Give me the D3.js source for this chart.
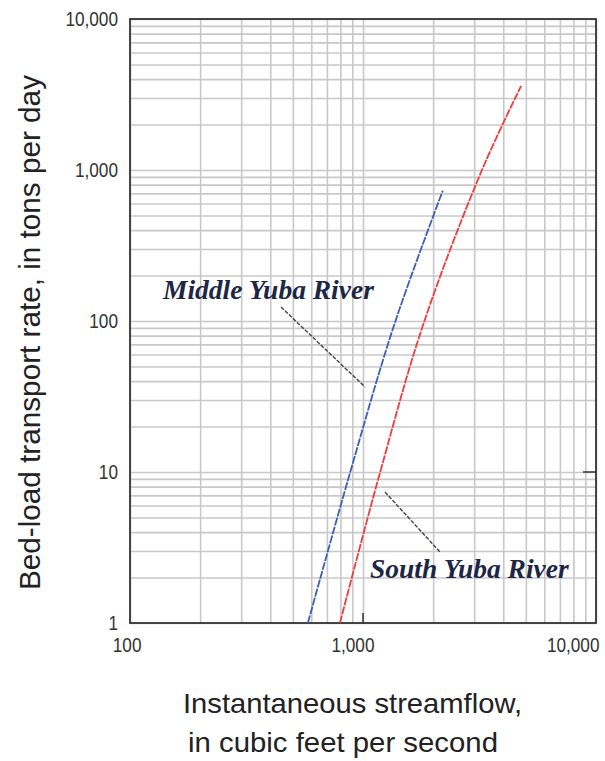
<!DOCTYPE html>
<html lang="en">
<head>
  <meta charset="UTF-8">
  <title>Bed-load transport rate vs streamflow</title>
  <script src="https://d3js.org/d3.v7.min.js"></script>
  <style>
    body { margin: 0; background: #fff; }
    .grid line { stroke: #c8c8c8; stroke-width: 1.6; }
    .grid path { display: none; }
    .lbl text { font-family: "Liberation Sans", Arial, sans-serif; font-size: 21px; fill: #333; }
    .lbl path, .lbl line { display: none; }
  </style>
</head>
<body>
  <script>
    // Values
    const xTickValues = [100, 1000, 10000];
    const yTickValues = [1, 10, 100, 1000, 10000];

    const middleFlow = [580, 870, 1360, 2200];
    const middleLoad = [1, 9.3, 94, 730];

    const southFlow = [796, 1170, 1810, 3240, 4770];
    const southLoad = [1, 9.3, 94, 1000, 3600];

    const width = 605, height = 761;
    const plotL = 130, plotR = 596, plotT = 19, plotB = 623;
    const squeeze = 0.82; // the original uses a condensed face

    const svg = d3.select("body").append("svg")
      .attr("width", width)
      .attr("height", height);

    const x = d3.scaleLog().domain([100, 10000]).range([plotL, plotR]);
    const y = d3.scaleLog().domain([1, 10000]).range([plotB, plotT]);

    // grid lines (every 1..9 of each decade)
    svg.append("g")
      .attr("class", "grid")
      .attr("transform", `translate(0,${plotB})`)
      .call(d3.axisBottom(x).ticks(20).tickSize(-(plotB - plotT)).tickFormat(""));

    svg.append("g")
      .attr("class", "grid")
      .attr("transform", `translate(${plotL},0)`)
      .call(d3.axisLeft(y).ticks(40).tickSize(-(plotR - plotL)).tickFormat(""));

    // frame
    svg.append("rect")
      .attr("x", plotL).attr("y", plotT)
      .attr("width", plotR - plotL).attr("height", plotB - plotT)
      .attr("fill", "none")
      .attr("stroke", "#333")
      .attr("stroke-width", 1.8);

    // small inward ticks
    svg.append("line")
      .attr("x1", x(1000)).attr("x2", x(1000))
      .attr("y1", plotB).attr("y2", plotB - 10)
      .attr("stroke", "#333").attr("stroke-width", 1.5);
    svg.append("line")
      .attr("x1", plotR).attr("x2", plotR - 13)
      .attr("y1", y(10)).attr("y2", y(10))
      .attr("stroke", "#333").attr("stroke-width", 1.5);

    // tick labels
    const xLab = svg.append("g")
      .attr("class", "lbl")
      .attr("transform", `translate(0,${plotB})`)
      .call(d3.axisBottom(x).tickValues(xTickValues).tickSize(0).tickFormat(d3.format(",")));
    xLab.selectAll("text")
      .attr("text-anchor", "end")
      .attr("transform", `scale(${squeeze},1)`)
      .attr("x", d => Math.min(11, 599 - x(d)) / squeeze)
      .attr("y", 0)
      .attr("dy", 29);

    const yLab = svg.append("g")
      .attr("class", "lbl")
      .attr("transform", `translate(${plotL},0)`)
      .call(d3.axisLeft(y).tickValues(yTickValues).tickSize(0).tickFormat(d3.format(",")));
    yLab.selectAll("text")
      .attr("transform", `scale(${squeeze},1)`)
      .attr("x", -12 / squeeze)
      .attr("dy", "0.3em");

    // curves
    const line = d3.line()
      .x(d => x(d[0]))
      .y(d => y(d[1]))
      .curve(d3.curveCatmullRom);

    svg.append("path")
      .datum(d3.zip(middleFlow, middleLoad))
      .attr("d", line)
      .attr("fill", "none")
      .attr("stroke", "#3b5fb5")
      .attr("stroke-width", 1.8)
      .attr("stroke-dasharray", "8,1.2");

    svg.append("path")
      .datum(d3.zip(southFlow, southLoad))
      .attr("d", line)
      .attr("fill", "none")
      .attr("stroke", "#f23a3a")
      .attr("stroke-width", 1.8)
      .attr("stroke-dasharray", "8,1.2");

    // leader lines
    const leaders = [
      [[281, 307], [365, 387]],
      [[385, 492], [440, 552]]
    ];
    svg.selectAll(".leader")
      .data(leaders)
      .enter()
      .append("line")
      .attr("x1", d => d[0][0]).attr("y1", d => d[0][1])
      .attr("x2", d => d[1][0]).attr("y2", d => d[1][1])
      .attr("stroke", "#444")
      .attr("stroke-width", 1.4)
      .attr("stroke-dasharray", "4,1.5");

    // river names
    svg.append("text")
      .attr("x", 163).attr("y", 299)
      .style("font-family", "'Liberation Serif', 'DejaVu Serif', serif")
      .style("font-weight", "bold")
      .style("font-style", "italic")
      .style("font-size", "27.5px")
      .style("fill", "#1e2645")
      .text("Middle Yuba River");

    svg.append("text")
      .attr("x", 370).attr("y", 578)
      .style("font-family", "'Liberation Serif', 'DejaVu Serif', serif")
      .style("font-weight", "bold")
      .style("font-style", "italic")
      .style("font-size", "27.5px")
      .style("fill", "#1e2645")
      .text("South Yuba River");

    // axis titles
    const titleFont = "'Liberation Sans', Arial, sans-serif";
    svg.append("text")
      .attr("transform", `translate(40,${(75 + 590) / 2}) rotate(-90)`)
      .attr("text-anchor", "middle")
      .attr("textLength", 515)
      .attr("lengthAdjust", "spacingAndGlyphs")
      .style("font-family", titleFont)
      .style("font-size", "29px")
      .style("fill", "#222")
      .text("Bed-load transport rate, in tons per day");

    svg.append("text")
      .attr("x", 183).attr("y", 713)
      .attr("textLength", 339)
      .attr("lengthAdjust", "spacingAndGlyphs")
      .style("font-family", titleFont)
      .style("font-size", "28px")
      .style("fill", "#222")
      .text("Instantaneous streamflow,");

    svg.append("text")
      .attr("x", 188).attr("y", 752)
      .attr("textLength", 310)
      .attr("lengthAdjust", "spacingAndGlyphs")
      .style("font-family", titleFont)
      .style("font-size", "28px")
      .style("fill", "#222")
      .text("in cubic feet per second");
  </script>
</body>
</html>
